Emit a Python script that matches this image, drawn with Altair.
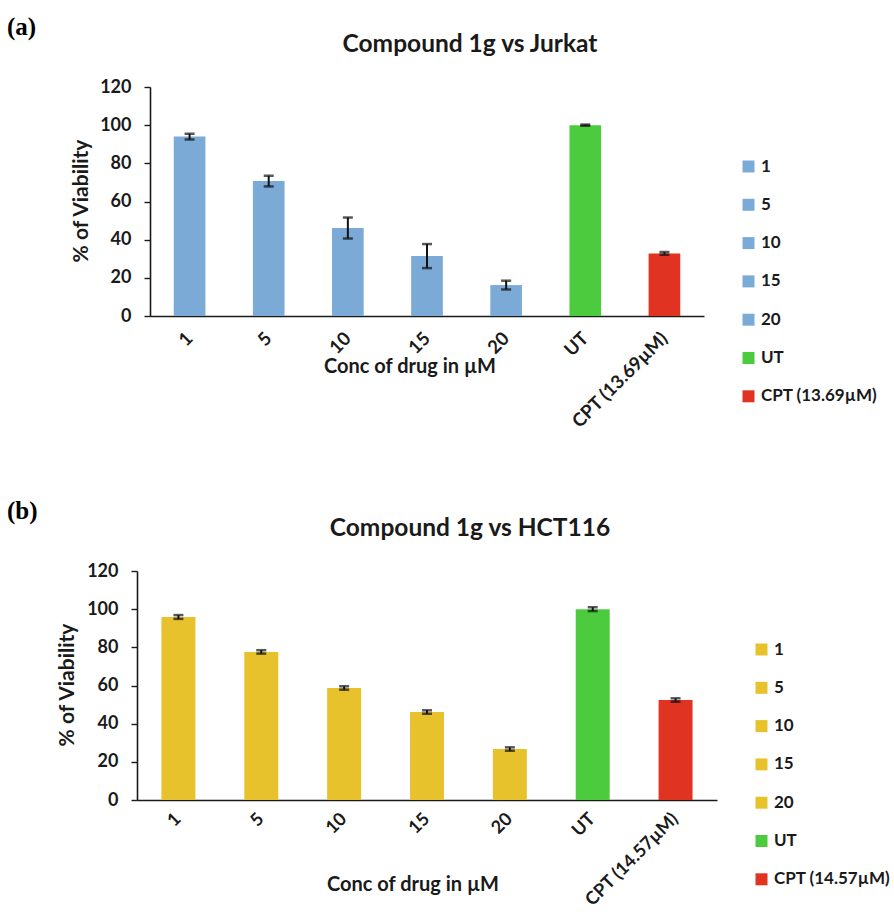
import altair as alt
import pandas as pd

# ---- data ----
cats_a = ["1", "5", "10", "15", "20", "UT", "CPT (13.69µM)"]
vals_a = [94.0, 70.7, 46.1, 31.4, 16.2, 100.0, 32.8]
errs_a = [1.5, 2.8, 5.5, 6.3, 2.3, 0.3, 0.7]

cats_b = ["1", "5", "10", "15", "20", "UT", "CPT (14.57µM)"]
vals_b = [95.9, 77.6, 58.7, 46.1, 26.7, 100.0, 52.4]
errs_b = [1.0, 0.9, 0.9, 0.9, 0.9, 1.0, 0.9]

colors_a = ["#7BAAD7"] * 5 + ["#4CCB3F", "#E03322"]
colors_b = ["#E8C22D"] * 5 + ["#4CCB3F", "#E03322"]

y_ticks = [0, 20, 40, 60, 80, 100, 120]

FONT = "Lato"
INK = "#1a1a1a"
ORIGIN = 150  # common x of the group origin of both panels (concat aligns them)


def panel(cats, vals, errs, colors, letter, title, axis_x, axis_end, pad_inner,
          top, bottom_abs, title_x, ytitle_x, xtitle_x, xtitle_y, legend_x, legend_y,
          xlab_pad, xlab_size):
    df = pd.DataFrame({
        "cat": cats,
        "val": vals,
        "lo": [v - e for v, e in zip(vals, errs)],
        "hi": [v + e for v, e in zip(vals, errs)],
    })
    shift = ORIGIN - axis_x
    width = axis_end - ORIGIN
    xscale = alt.Scale(domain=cats, paddingInner=pad_inner, paddingOuter=pad_inner / 2,
                       range=[-shift, width])
    yscale = alt.Scale(domain=[0, 120], nice=False, zero=True)
    xaxis = alt.Axis(title=None, labelAngle=-45, labelAlign="right", labelBaseline="middle",
                     labelPadding=xlab_pad, ticks=False, domainColor=INK, domainWidth=1.6,
                     labelFont=FONT, labelFontSize=xlab_size, labelFontWeight="bold",
                     labelColor=INK, labelOverlap=False, labelFlush=False, labelBound=False)
    yaxis = alt.Axis(title=None, values=y_ticks, tickCount=7, grid=False, tickSize=6,
                     tickColor=INK, tickWidth=1.4, domainColor=INK, domainWidth=1.6,
                     labelPadding=13, labelFont=FONT, labelFontSize=18, labelFontWeight="bold",
                     labelColor=INK, labelOverlap=False, labelFlush=False, labelBound=False,
                     offset=shift)

    X = alt.X("cat:N", sort=cats, scale=xscale, axis=xaxis)
    base = alt.Chart(df)
    bars = base.mark_bar().encode(
        x=X,
        y=alt.Y("val:Q", scale=yscale, axis=yaxis),
        color=alt.Color("cat:N", sort=cats,
                        scale=alt.Scale(domain=cats, range=colors),
                        legend=alt.Legend(title=None, orient="none", legendX=legend_x - ORIGIN,
                                          legendY=legend_y,
                                          symbolType="square", symbolSize=144, symbolStrokeWidth=0,
                                          labelFont=FONT, labelFontSize=17, labelFontWeight="bold",
                                          labelColor=INK, rowPadding=20.3, labelOffset=4,
                                          padding=0)),
    )
    rule = base.mark_rule(color="#111111", strokeWidth=2).encode(
        x=X, y=alt.Y("lo:Q", scale=yscale, axis=yaxis), y2="hi:Q")
    cap_top = base.mark_tick(color="#111111", thickness=2.5, size=10).encode(
        x=X, y=alt.Y("hi:Q", scale=yscale, axis=yaxis))
    cap_bot = base.mark_tick(color="#111111", thickness=2.5, size=10).encode(
        x=X, y=alt.Y("lo:Q", scale=yscale, axis=yaxis))

    one = alt.Chart(pd.DataFrame({"k": [0]}))
    t_letter = one.mark_text(text=letter, font="Liberation Serif", fontSize=25, fontWeight="bold",
                             align="left", baseline="middle", color="#000000").encode(
        x=alt.value(7 - ORIGIN), y=alt.value(-60))
    t_title = one.mark_text(text=title, font=FONT, fontSize=24.5, fontWeight="bold",
                            align="center", baseline="middle", color=INK).encode(
        x=alt.value(title_x - ORIGIN), y=alt.value(-42))
    t_ytitle = one.mark_text(text="% of Viability", font=FONT, fontSize=21, fontWeight="bold",
                             align="center", baseline="middle", angle=270, color=INK).encode(
        x=alt.value(ytitle_x - ORIGIN), y=alt.value(114))
    t_xtitle = one.mark_text(text="Conc of drug in µM", font=FONT, fontSize=20, fontWeight="bold",
                             align="center", baseline="middle", color=INK).encode(
        x=alt.value(xtitle_x - ORIGIN), y=alt.value(xtitle_y))
    anchor = one.mark_rule(opacity=0).encode(
        x=alt.value(-ORIGIN), y=alt.value(-top), y2=alt.value(bottom_abs - top))

    return alt.layer(bars, rule, cap_top, cap_bot, t_letter, t_title, t_ytitle, t_xtitle,
                     anchor).properties(width=width, height=229)


pa = panel(cats_a, vals_a, errs_a, colors_a, "(a)", "Compound 1g vs Jurkat",
           axis_x=150, axis_end=704, pad_inner=0.6,
           top=87, bottom_abs=480, title_x=470, ytitle_x=82, xtitle_x=410, xtitle_y=280,
           legend_x=740, legend_y=71, xlab_pad=19, xlab_size=18.5)
# panel b: top anchor at absolute 480 -> relative 480-571
pb = panel(cats_b, vals_b, errs_b, colors_b, "(b)", "Compound 1g vs HCT116",
           axis_x=137, axis_end=717, pad_inner=0.59,
           top=91, bottom_abs=432, title_x=470, ytitle_x=68, xtitle_x=413, xtitle_y=314,
           legend_x=753, legend_y=70, xlab_pad=16, xlab_size=18)

chart = alt.concat(pa, pb, columns=1, spacing=0).resolve_scale(
    x="independent", y="independent", color="independent"
).resolve_legend(color="independent").properties(padding=0).configure_view(stroke=None)

chart.save("out.html", embed_options={"renderer": "svg", "actions": False})
